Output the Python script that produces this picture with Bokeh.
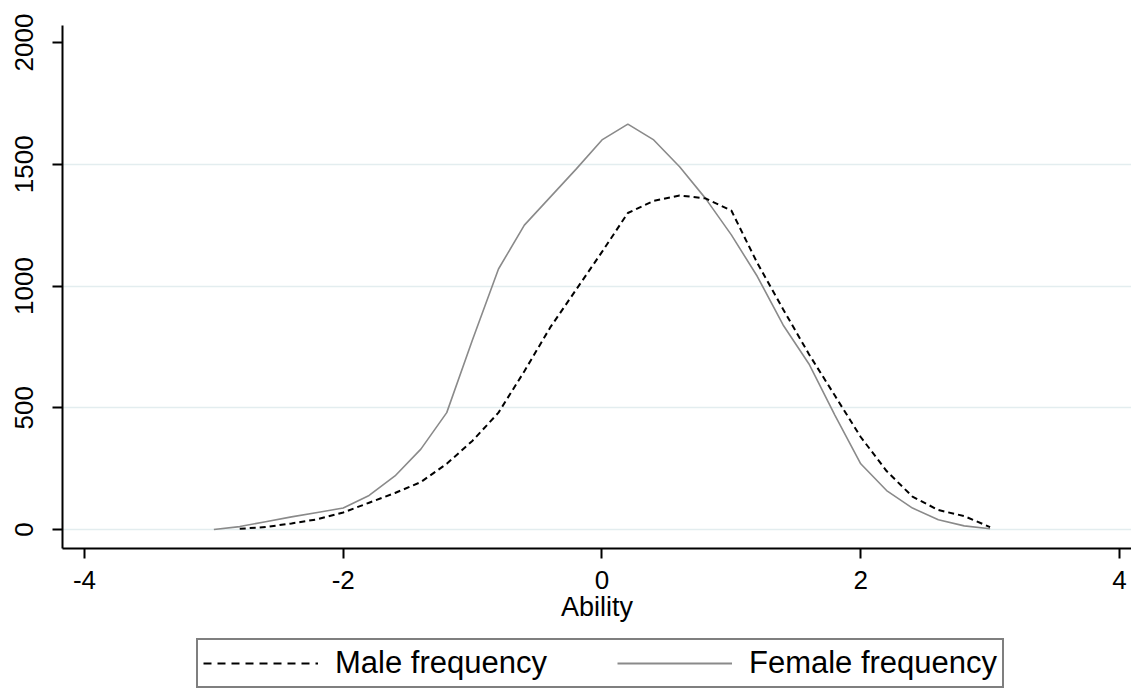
from bokeh.plotting import figure
from bokeh.layouts import column
from bokeh.models import Range1d, FixedTicker, Legend, LegendItem, ColumnDataSource
from bokeh.embed import file_html
from bokeh.resources import INLINE

# ---- data ----
female_x = [-3.0, -2.8, -2.6, -2.4, -2.2, -2.0, -1.8, -1.6, -1.4, -1.2, -1.0, -0.8, -0.6,
            -0.4, -0.2, 0.0, 0.2, 0.4, 0.6, 0.8, 1.0, 1.2, 1.4, 1.6, 1.8, 2.0, 2.2, 2.4,
            2.6, 2.8, 3.0]
female_freq = [0, 12, 32, 52, 70, 88, 140, 220, 330, 480, 780, 1070, 1250,
               1365, 1480, 1600, 1665, 1600, 1490, 1360, 1210, 1040, 840, 680, 470, 270, 160, 88,
               40, 15, 3]

male_x = [-2.8, -2.6, -2.4, -2.2, -2.0, -1.8, -1.6, -1.4, -1.2, -1.0, -0.8, -0.6,
          -0.4, -0.2, 0.0, 0.2, 0.4, 0.6, 0.8, 1.0, 1.2, 1.4, 1.6, 1.8, 2.0, 2.2, 2.4,
          2.6, 2.8, 3.0]
male_freq = [3, 10, 25, 42, 70, 110, 150, 195, 270, 365, 480, 650,
             830, 985, 1140, 1300, 1350, 1372, 1360, 1310, 1095, 905, 720, 550, 380, 240, 135,
             80, 55, 10]

x_ticks = [-4, -2, 0, 2, 4]
x_labels = ["-4", "-2", "0", "2", "4"]
y_ticks = [0, 500, 1000, 1500, 2000]
y_labels = ["0", "500", "1000", "1500", "2000"]
grid_lines = [0, 500, 1000, 1500]

FONT = "Liberation Sans"
FEMALE_COLOR = "#8a8a8a"
MALE_COLOR = "black"
MALE_DASH = "6 4"

p = figure(width=1131, height=636, output_backend="svg", toolbar_location=None,
           x_range=Range1d(-4.170, 4.093), y_range=Range1d(-78, 2070),
           min_border_left=62, min_border_right=0, min_border_top=25, min_border_bottom=88)
p.outline_line_color = None
p.background_fill_color = "white"
p.border_fill_color = "white"

# grid
p.xgrid.visible = False
p.ygrid.ticker = FixedTicker(ticks=grid_lines)
p.ygrid.grid_line_color = "#e3edef"
p.ygrid.grid_line_width = 1.5

# axes
for ax in (p.xaxis[0], p.yaxis[0]):
    ax.axis_line_color = "black"
    ax.axis_line_width = 2
    ax.major_tick_line_color = "black"
    ax.major_tick_line_width = 2
    ax.major_tick_out = 10
    ax.major_tick_in = 0
    ax.minor_tick_line_color = None
    ax.major_label_text_font = FONT
    ax.major_label_text_font_size = "26px"
    ax.major_label_text_color = "black"

p.xaxis.ticker = FixedTicker(ticks=x_ticks)
p.xaxis.major_label_overrides = {t: s for t, s in zip(x_ticks, x_labels)}
p.yaxis.ticker = FixedTicker(ticks=y_ticks)
p.yaxis.major_label_overrides = {t: s for t, s in zip(y_ticks, y_labels)}
p.yaxis.major_label_orientation = "vertical"
p.yaxis.major_label_standoff = 19
p.xaxis.major_label_standoff = 12
p.xaxis.axis_label = "Ability"
p.xaxis.axis_label_text_font = FONT
p.xaxis.axis_label_text_font_size = "27px"
p.xaxis.axis_label_text_font_style = "normal"
p.xaxis.axis_label_text_color = "black"
p.xaxis.axis_label_standoff = 0

male_src = ColumnDataSource(dict(x=male_x, y=male_freq))
female_src = ColumnDataSource(dict(x=female_x, y=female_freq))

p.line("x", "y", source=female_src, line_color=FEMALE_COLOR, line_width=1.6)
p.line("x", "y", source=male_src, line_color=MALE_COLOR, line_width=2, line_dash=MALE_DASH)

# ---- legend strip (separate figure, lines kept out of its view) ----
lg = figure(width=1131, height=54, output_backend="svg", toolbar_location=None,
            x_range=Range1d(100, 101), y_range=Range1d(100, 101),
            x_axis_type=None, y_axis_type=None,
            min_border_left=0, min_border_right=0, min_border_top=0, min_border_bottom=0)
lg.outline_line_color = None
lg.xgrid.visible = False
lg.ygrid.visible = False
lm = lg.line("x", "y", source=male_src, line_color=MALE_COLOR, line_width=2, line_dash="8 6")
lf = lg.line("x", "y", source=female_src, line_color=FEMALE_COLOR, line_width=1.8)

legend = Legend(items=[LegendItem(label="Male frequency", renderers=[lm]),
                       LegendItem(label="Female frequency", renderers=[lf])],
                orientation="horizontal", location=(134, 2))
legend.label_text_font = FONT
legend.label_text_font_size = "31px"
legend.label_text_color = "black"
legend.glyph_width = 115
legend.glyph_height = 30
legend.label_standoff = 17
legend.spacing = 70
legend.padding = 5
legend.margin = 0
legend.border_line_color = "black"
legend.border_line_width = 2
legend.background_fill_color = "white"
legend.background_fill_alpha = 1
lg.add_layout(legend, "center")

layout = column(p, lg, spacing=0)
open("out.html", "w").write(file_html(layout, INLINE))
